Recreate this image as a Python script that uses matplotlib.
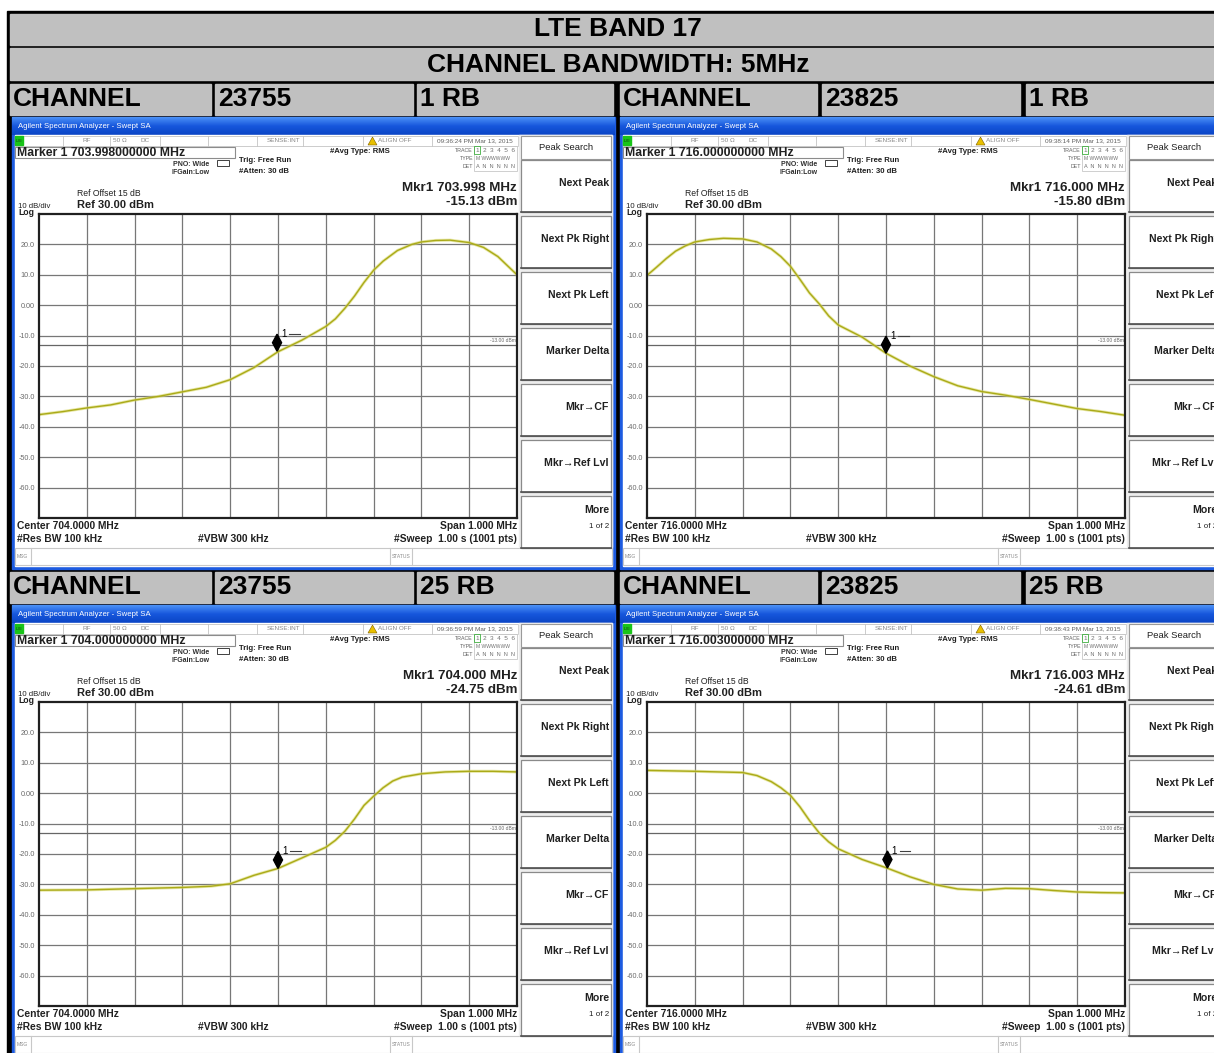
import matplotlib.pyplot as plt
from matplotlib.patches import Rectangle, Polygon
import numpy as np

plt.rcParams['font.family'] = ['Liberation Sans', 'DejaVu Sans']

band_title = 'LTE BAND 17'
bw_title = 'CHANNEL BANDWIDTH: 5MHz'
channels = ['23755', '23825']
rb_rows = ['1 RB', '25 RB']
centers = [704.0, 716.0]
stamps = [['09:36:24 PM Mar 13, 2015', '09:38:14 PM Mar 13, 2015'],
          ['09:36:59 PM Mar 13, 2015', '09:38:43 PM Mar 13, 2015']]
marker_freq = [[703.998, 716.000], [704.000, 716.003]]
marker_dbm = [[-15.13, -15.80], [-24.75, -24.61]]

# traces: offset from centre (MHz), level (dBm)
lo_1rb_off = [-.5, -.45, -.4, -.35, -.3, -.25, -.2, -.15, -.1, -.05, 0, .05, .1, .12, .14,
              .16, .18, .2, .22, .25, .28, .3, .33, .36, .4, .43, .46, .5]
lo_1rb_dbm = [-36, -35, -33.8, -32.8, -31.2, -30, -28.5, -27, -24.5, -20.5, -15.3, -11.5, -7,
              -4.5, -1, 3, 7.5, 11.5, 14.5, 18, 20, 20.8, 21.3, 21.4, 20.6, 19, 16, 10]
hi_1rb_off = [-.5, -.48, -.46, -.44, -.42, -.4, -.37, -.34, -.3, -.27, -.24, -.22, -.2, -.18,
              -.16, -.14, -.12, -.1, -.05, 0, .05, .1, .15, .2, .25, .3, .35, .4, .45, .5]
hi_1rb_dbm = [9.8, 12.5, 15.3, 17.8, 19.5, 20.8, 21.6, 22.0, 21.8, 20.8, 18.5, 16.0, 12.8, 8.5,
              4.0, 0.5, -3.5, -6.5, -10.5, -15.8, -20.0, -23.5, -26.5, -28.4, -29.6, -31.0,
              -32.5, -34.0, -35.0, -36.2]
lo_25rb_off = [-.5, -.4, -.3, -.2, -.14, -.1, -.05, 0, .05, .1, .12, .14, .16, .18, .2, .22,
               .24, .26, .3, .35, .4, .45, .5]
lo_25rb_dbm = [-31.9, -31.8, -31.4, -31.0, -30.6, -29.8, -27.0, -24.75, -21.3, -17.8, -15.5,
               -12.5, -8.5, -4.0, -1.0, 1.8, 4.0, 5.3, 6.4, 7.0, 7.2, 7.2, 7.0]
hi_25rb_off = [-.5, -.4, -.3, -.27, -.24, -.22, -.2, -.18, -.16, -.14, -.12, -.1, -.05, 0,
               .05, .1, .15, .2, .25, .3, .35, .4, .45, .5]
hi_25rb_dbm = [7.5, 7.2, 6.8, 5.8, 3.8, 1.8, -0.7, -4.5, -9.0, -13.0, -16.0, -18.3, -21.8,
               -24.5, -27.5, -30.0, -31.5, -31.9, -31.3, -31.4, -32.0, -32.5, -32.7, -32.8]
traces = [[(lo_1rb_off, lo_1rb_dbm), (hi_1rb_off, hi_1rb_dbm)],
          [(lo_25rb_off, lo_25rb_dbm), (hi_25rb_off, hi_25rb_dbm)]]

softkeys = ['Next Peak', 'Next Pk Right', 'Next Pk Left', 'Marker Delta',
            'Mkr\u2192CF', 'Mkr\u2192Ref Lvl']
ylabels = ['-60.0', '-50.0', '-40.0', '-30.0', '-20.0', '-10.0', '0.00', '10.0', '20.0']

W, H = 1214, 1053
fig = plt.figure(figsize=(W / 100, H / 100), dpi=100)
bg = fig.add_axes([0, 0, 1, 1])
bg.axis('off')

GRAY = '#c0c0c0'
bg.add_patch(Rectangle((7, 11), W - 7, H - 11, color='black'))
bg.add_patch(Rectangle((10, 14), W - 10, 31, color=GRAY))
bg.add_patch(Rectangle((10, 48), W - 10, 32, color=GRAY))
bg.text(618, 29.5, band_title, ha='center', va='center', fontsize=19, weight='bold')
bg.text(618, 64.5, bw_title, ha='center', va='center', fontsize=19, weight='bold')

cells = [(10, 211), (215, 413), (417, 613), (620, 817), (822, 1020), (1026, W)]


def header_row(y, rb):
    words = ['CHANNEL', channels[0], rb, 'CHANNEL', channels[1], rb]
    for (a, b), w in zip(cells, words):
        bg.add_patch(Rectangle((a, y), b - a, 31, color=GRAY))
        bg.text(a + 3, y + 15.5, w, ha='left', va='center', fontsize=19, weight='bold')


def small(x, y, s, size=4.6, color='#8a8a8a', **kw):
    bg.text(x, y, s, fontsize=size, color=color, va='center', **kw)


def analyzer(x0, y0, center, mk_f, mk_db, stamp, off, dbm):
    # window frame and title bar
    bg.add_patch(Rectangle((x0, y0), 603, 452, color='#1d5be0', zorder=1))
    grad = np.linspace(0, 1, 18)[:, None] * np.ones((1, 2))
    bg.imshow(grad, extent=(x0, x0 + 603, y0 + 18, y0), aspect='auto',
              cmap=plt.matplotlib.colors.LinearSegmentedColormap.from_list(
                  'xp', ['#4a8ff5', '#1656dc', '#0b45c6']), zorder=2)
    bg.text(x0 + 6, y0 + 10, 'Agilent Spectrum Analyzer - Swept SA', color='white',
            fontsize=5.6, va='center', zorder=3)
    bg.add_patch(Rectangle((x0 + 3, y0 + 18), 597, 431, color='white', zorder=2))

    # status row
    bg.add_patch(Rectangle((x0 + 3, y0 + 19), 503, 10, fc='white', ec='#c4c4c4', lw=0.6, zorder=3))
    for sx in [51, 98, 148, 196, 245, 291, 351, 420]:
        bg.plot([x0 + sx, x0 + sx], [y0 + 19, y0 + 29], color='#c4c4c4', lw=0.6, zorder=3)
    bg.add_patch(Rectangle((x0 + 3, y0 + 19), 8, 9, color='#19c419', zorder=4))
    small(x0 + 7, y0 + 24, 'LXI', size=3.2, color='#104010', ha='center', zorder=5)
    small(x0 + 75, y0 + 24, 'RF', ha='center', zorder=4)
    small(x0 + 108, y0 + 24, '50 \u03a9', ha='center', zorder=4)
    small(x0 + 133, y0 + 24, 'DC', ha='center', zorder=4)
    small(x0 + 272, y0 + 24, 'SENSE:INT', ha='center', zorder=4)
    bg.add_patch(Polygon([[x0 + 356, y0 + 28], [x0 + 360.5, y0 + 20], [x0 + 365, y0 + 28]],
                         fc='#e8c000', ec='#806000', lw=0.4, zorder=4))
    small(x0 + 366, y0 + 24, 'ALIGN OFF', zorder=4)
    small(x0 + 463, y0 + 24, stamp, ha='center', color='#606060', zorder=4)

    # marker readout
    bg.add_patch(Rectangle((x0 + 3, y0 + 30), 220, 11, fc='white', ec='#8c8c8c', lw=0.8, zorder=3))
    bg.text(x0 + 5, y0 + 35.8, 'Marker 1 %.9f MHz' % mk_f, fontsize=8.8, weight='bold',
            va='center', color='#202020', zorder=4)
    small(x0 + 161, y0 + 47, 'PNO: Wide', size=5, color='#303030', weight='bold', zorder=4)
    small(x0 + 159, y0 + 56, 'IFGain:Low', size=5, color='#303030', weight='bold', zorder=4)
    bg.add_patch(Rectangle((x0 + 205, y0 + 43), 12, 6, fc='white', ec='#404040', lw=0.7, zorder=4))
    small(x0 + 227, y0 + 44, 'Trig: Free Run', size=5.6, color='#202020', weight='bold', zorder=4)
    small(x0 + 227, y0 + 54.5, '#Atten: 30 dB', size=5.6, color='#202020', weight='bold', zorder=4)
    small(x0 + 318, y0 + 34.5, '#Avg Type: RMS', size=5.6, color='#202020', weight='bold', zorder=4)
    small(x0 + 461, y0 + 33, 'TRACE', size=3.8, color='#606060', ha='right', zorder=4)
    small(x0 + 461, y0 + 41.5, 'TYPE', size=3.8, color='#606060', ha='right', zorder=4)
    small(x0 + 461, y0 + 50, 'DET', size=3.8, color='#606060', ha='right', zorder=4)
    bg.add_patch(Rectangle((x0 + 462, y0 + 28.5), 43, 25, fc='none', ec='#c8c8c8', lw=0.6, zorder=4))
    bg.add_patch(Rectangle((x0 + 462, y0 + 29), 6, 8, fc='none', ec='#40b040', lw=0.6, zorder=4))
    small(x0 + 463.5, y0 + 33, '1  2  3  4  5  6', size=4.6, color='#707070', zorder=5)
    small(x0 + 463.5, y0 + 41.5, 'M WWWWWW', size=3.6, color='#707070', zorder=5)
    small(x0 + 463.5, y0 + 50, 'A  N  N  N  N  N', size=4.0, color='#707070', zorder=5)

    bg.text(x0 + 505, y0 + 71, 'Mkr1 %.3f MHz' % mk_f, fontsize=9.6, weight='bold', ha='right',
            va='center', color='#202020', zorder=4)
    bg.text(x0 + 505, y0 + 85, '%.2f dBm' % mk_db, fontsize=9.6, weight='bold', ha='right',
            va='center', color='#202020', zorder=4)
    small(x0 + 65, y0 + 77, 'Ref Offset 15 dB', size=6.2, color='#202020', zorder=4)
    bg.text(x0 + 65, y0 + 88.5, 'Ref 30.00 dBm', fontsize=8, weight='bold', va='center',
            color='#202020', zorder=4)
    small(x0 + 6, y0 + 89.5, '10 dB/div', size=5.6, color='#202020', zorder=4)
    small(x0 + 6, y0 + 95.5, 'Log', size=6.2, color='#202020', weight='bold', zorder=4)

    bg.text(x0 + 5, y0 + 409, 'Center %.4f MHz' % center, fontsize=7.4, weight='bold',
            va='center', color='#202020', zorder=4)
    bg.text(x0 + 505, y0 + 409, 'Span 1.000 MHz', fontsize=7.4, weight='bold', ha='right',
            va='center', color='#202020', zorder=4)
    bg.text(x0 + 5, y0 + 422, '#Res BW 100 kHz', fontsize=7.4, weight='bold',
            va='center', color='#202020', zorder=4)
    bg.text(x0 + 186, y0 + 422, '#VBW 300 kHz', fontsize=7.4, weight='bold',
            va='center', color='#202020', zorder=4)
    bg.text(x0 + 505, y0 + 422, '#Sweep  1.00 s (1001 pts)', fontsize=7.4, weight='bold',
            ha='right', va='center', color='#202020', zorder=4)

    # message bar
    bg.add_patch(Rectangle((x0 + 3, y0 + 431), 597, 17, fc='white', ec='#c8c8c8', lw=0.8, zorder=3))
    for sx in [19, 378, 400]:
        bg.plot([x0 + sx, x0 + sx], [y0 + 431, y0 + 448], color='#c8c8c8', lw=0.8, zorder=4)
    small(x0 + 5, y0 + 439.5, 'MSG', size=3.6, zorder=4)
    small(x0 + 380, y0 + 439.5, 'STATUS', size=3.6, zorder=4)

    # softkeys
    bg.add_patch(Rectangle((x0 + 507, y0 + 18), 93, 412, color='#ededed', zorder=3))
    bg.add_patch(Rectangle((x0 + 509, y0 + 19), 90, 23, fc='white', ec='#9a9a9a', lw=0.8, zorder=4))
    bg.text(x0 + 554, y0 + 30.5, 'Peak Search', fontsize=6.8, ha='center', va='center',
            color='#202020', zorder=5)
    for i, key in enumerate(softkeys + ['More']):
        top = y0 + 43 + 56 * i
        bg.add_patch(Rectangle((x0 + 509, top), 90, 52, fc='white', ec='#8a8a8a', lw=0.9, zorder=4))
        bg.plot([x0 + 509, x0 + 599], [top + 52, top + 52], color='#505050', lw=1.2, zorder=5)
        if key == 'More':
            bg.text(x0 + 597, top + 14, key, fontsize=7.6, weight='bold', ha='right',
                    va='center', color='#202020', zorder=5)
            bg.text(x0 + 597, top + 30, '1 of 2', fontsize=5.8, ha='right',
                    va='center', color='#202020', zorder=5)
        else:
            bg.text(x0 + 597, top + 23, key, fontsize=7.6, weight='bold', ha='right',
                    va='center', color='#202020', zorder=5)

    # graticule
    ax = fig.add_axes([(x0 + 27) / W, 1 - (y0 + 401) / H, 478 / W, 304 / H])
    ax.set_xlim(center - 0.5, center + 0.5)
    ax.set_ylim(-70, 30)
    ax.set_xticks(center - 0.5 + 0.1 * np.arange(1, 10))
    ax.set_xticklabels([])
    ax.set_yticks(np.arange(-60, 30, 10))
    ax.set_yticklabels(ylabels, fontsize=5.2, color='#6a6a6a')
    ax.tick_params(length=0, pad=3)
    ax.grid(True, color='#777777', lw=0.9)
    for s in ax.spines.values():
        s.set_linewidth(1.6)
        s.set_color('#202020')
    ax.axhline(-13, color='#666666', lw=0.9)
    ax.text(center + 0.497, -12.3, '-13.00 dBm', fontsize=3.6, color='#666666',
            ha='right', va='bottom')
    ax.plot(center + np.array(off), dbm, color='#d8d86a', lw=2.2, alpha=0.6)
    ax.plot(center + np.array(off), dbm, color='#aaaa18', lw=1.0)
    hw, hh = 0.0095, 5.6
    ax.add_patch(Polygon([[mk_f, mk_db], [mk_f + hw, mk_db + hh / 2], [mk_f, mk_db + hh],
                          [mk_f - hw, mk_db + hh / 2]], color='black', zorder=5))
    ax.text(mk_f + 0.008, mk_db + hh, '1', fontsize=7, va='center', ha='left', zorder=5)
    ax.plot([mk_f + 0.026, mk_f + 0.048], [mk_db + hh, mk_db + hh], color='#404040', lw=0.8)


header_row(84, rb_rows[0])
header_row(572, rb_rows[1])
for r, y0 in enumerate([117, 605]):
    for c, x0 in enumerate([12, 620]):
        off, dbm = traces[r][c]
        analyzer(x0, y0, centers[c], marker_freq[r][c], marker_dbm[r][c],
                 stamps[r][c], off, dbm)

bg.set_xlim(0, W)
bg.set_ylim(H, 0)
fig.savefig('out.png', dpi=100)
